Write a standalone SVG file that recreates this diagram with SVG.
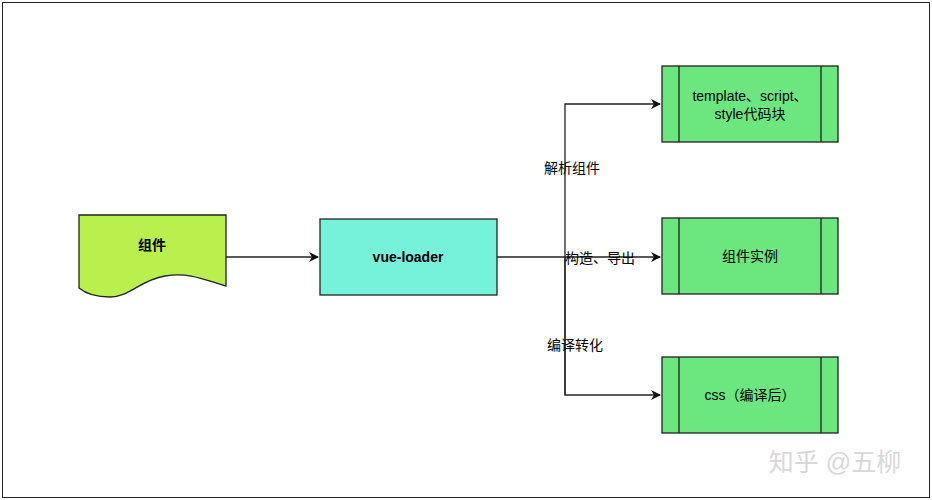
<svg xmlns="http://www.w3.org/2000/svg" width="932" height="500" viewBox="0 0 932 500">
<style>
text{font-family:"Liberation Sans","Noto Sans CJK SC",sans-serif;font-size:14px;fill:#000;text-anchor:middle}
.b{font-weight:bold}
.p{fill:#6CE67E;stroke:#222;stroke-width:1.3}
.c{fill:none;stroke:#222;stroke-width:1.3}
</style>
<defs><marker id="a" markerWidth="10" markerHeight="10" refX="9" refY="5" orient="auto" markerUnits="userSpaceOnUse"><path d="M0,0 L10,5 L0,10 L3,5 Z" fill="#111"/></marker></defs>
<rect x="0" y="0" width="932" height="500" fill="#fff"/>
<rect x="2.5" y="2.5" width="927" height="495" fill="none" stroke="#222" stroke-width="1"/>
<g id="doc"><path d="M79,215 H226 V286 C205,280 190,272 165,276 C140,280 130,297 110,297 C95,297 85,293 79,288 Z" fill="#BAF04E" stroke="#222" stroke-width="1.3"/><text class="b" x="152" y="250">组件</text></g>
<g id="loader"><rect x="320" y="219" width="177" height="76" fill="#76F2DA" stroke="#222" stroke-width="1.3"/><text class="b" x="408" y="262">vue-loader</text></g>
<g id="n1"><rect class="p" x="662" y="66" width="176" height="76"/><path class="c" d="M679,66 V142 M821,66 V142"/><text x="750" y="101">template、script、</text><text x="750" y="119">style代码块</text></g>
<g id="n2"><rect class="p" x="662" y="218" width="176" height="76"/><path class="c" d="M679,218 V294 M821,218 V294"/><text x="750" y="261">组件实例</text></g>
<g id="n3"><rect class="p" x="662" y="357" width="176" height="76"/><path class="c" d="M679,357 V433 M821,357 V433"/><text x="750" y="400">css（编译后）</text></g>
<g id="edges">
<path class="c" d="M226,257 H318" marker-end="url(#a)"/>
<path class="c" d="M497,257 H660" marker-end="url(#a)"/>
<path class="c" d="M565,395 V104 H660" marker-end="url(#a)"/>
<path class="c" d="M565,257 V395 H660" marker-end="url(#a)"/>
<text x="572" y="173">解析组件</text>
<text x="600" y="263">构造、导出</text>
<text x="575" y="350">编译转化</text>
</g>
<text x="835" y="471" style="font-size:25px;fill:#d8d8d8">知乎 @五柳</text>
</svg>
